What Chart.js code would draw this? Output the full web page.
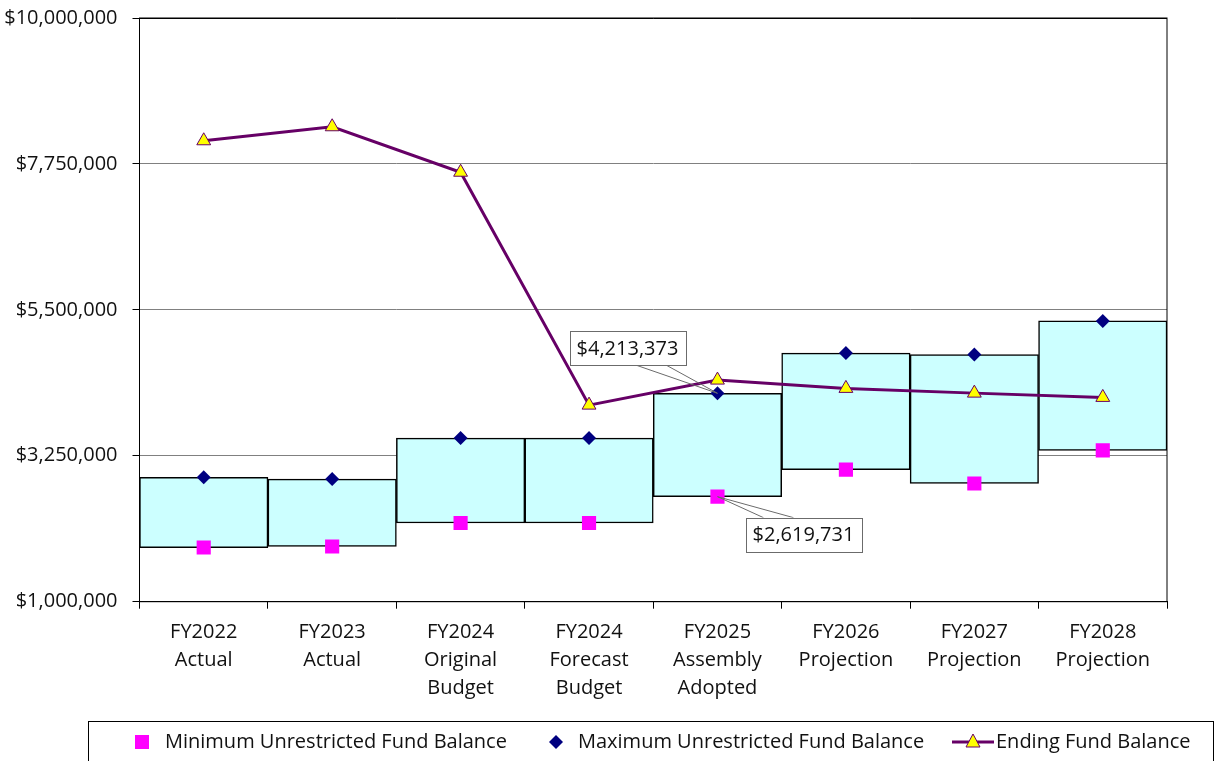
<!doctype html>
<html lang="en">
  <head>
    <meta charset="utf-8">
    <title>Fund Balance</title>
    <script src="https://cdn.jsdelivr.net/npm/chart.js"></script>
    <style>
      html, body { margin: 0; padding: 0; background: #fff; }
      .chart-wrap { position: relative; width: 1222px; height: 761px; }
    </style>
  </head>
  <body>
    <div class="chart-wrap">
      <canvas id="fundChart"></canvas>
    </div>

    <script>
      const categories = [
        ['FY2022', 'Actual'],
        ['FY2023', 'Actual'],
        ['FY2024', 'Original', 'Budget'],
        ['FY2024', 'Forecast', 'Budget'],
        ['FY2025', 'Assembly', 'Adopted'],
        ['FY2026', 'Projection'],
        ['FY2027', 'Projection'],
        ['FY2028', 'Projection']
      ];
      const minBalance = [1835000, 1851000, 2213000, 2213000, 2619731, 3037000, 2822000, 3333000];
      const maxBalance = [2917000, 2891000, 3523000, 3523000, 4213373, 4833000, 4810000, 5330000];
      const endingBalance = [8107000, 8323000, 7622000, 4031000, 4417000, 4289000, 4216000, 4150000];
      const yTicks = [1000000, 3250000, 5500000, 7750000, 10000000];

      const legendLabels = ['Minimum Unrestricted Fund Balance', 'Maximum Unrestricted Fund Balance', 'Ending Fund Balance'];

      const FONT = "'Open Sans', 'Noto Sans', sans-serif";
      const money = v => '$' + Math.round(v).toLocaleString('en-US');

      // border round the plot area
      const plotBorder = {
        id: 'plotBorder',
        beforeDatasetsDraw(chart) {
          const { ctx, chartArea: a } = chart;
          ctx.save();
          ctx.strokeStyle = '#000';
          ctx.lineWidth = 1;
          ctx.strokeRect(a.left, a.top, a.right - a.left, a.bottom - a.top);
          ctx.restore();
        }
      };

      // value callouts pointing at single points
      const callouts = [
        { dataset: 2, index: 4, dx: -90, dy: -45, wedge: [9, 39], side: 'bottom' },
        { dataset: 1, index: 4, dx: 86, dy: 38, wedge: [-40, -10], side: 'top' }
      ];
      const calloutPlugin = {
        id: 'callouts',
        afterDatasetsDraw(chart) {
          const { ctx } = chart;
          ctx.save();
          ctx.font = '20px ' + FONT;
          callouts.forEach(c => {
            const pt = chart.getDatasetMeta(c.dataset).data[c.index];
            const value = chart.data.datasets[c.dataset].data[c.index];
            const text = money(value);
            const w = ctx.measureText(text).width + 14;
            const h = 34;
            const cx = pt.x + c.dx, cy = pt.y + c.dy;
            const left = cx - w / 2, top = cy - h / 2;
            const edge = c.side === 'bottom' ? top + h : top;
            ctx.strokeStyle = '#6b6b6b';
            ctx.lineWidth = 1;
            ctx.beginPath();
            ctx.moveTo(cx + c.wedge[0], edge);
            ctx.lineTo(pt.x, pt.y);
            ctx.lineTo(cx + c.wedge[1], edge);
            ctx.stroke();
            ctx.fillStyle = '#fff';
            ctx.fillRect(left, top, w, h);
            ctx.strokeRect(Math.round(left) + 0.5, Math.round(top) + 0.5, Math.round(w), h);
            ctx.fillStyle = '#111';
            ctx.textAlign = 'center';
            ctx.textBaseline = 'middle';
            ctx.fillText(text, cx, cy + 1);
          });
          ctx.restore();
        }
      };

      // boxed legend along the bottom
      const boxLegend = {
        id: 'boxLegend',
        afterDraw(chart) {
          const { ctx } = chart;
          const y = 742;
          ctx.save();
          ctx.strokeStyle = '#000';
          ctx.lineWidth = 1;
          ctx.strokeRect(88.5, 721.5, 1125, 60);
          ctx.font = '20px ' + FONT;
          ctx.textBaseline = 'middle';

          ctx.fillStyle = '#FF00FF';
          ctx.fillRect(135, y - 7, 14, 14);
          ctx.fillStyle = '#111';
          ctx.fillText(legendLabels[0], 165, y);

          ctx.fillStyle = '#000080';
          ctx.beginPath();
          ctx.moveTo(556, y - 7); ctx.lineTo(563, y); ctx.lineTo(556, y + 7); ctx.lineTo(549, y);
          ctx.closePath(); ctx.fill();
          ctx.fillStyle = '#111';
          ctx.fillText(legendLabels[1], 578, y);

          ctx.strokeStyle = '#660066';
          ctx.lineWidth = 3;
          ctx.beginPath(); ctx.moveTo(952, y); ctx.lineTo(994, y); ctx.stroke();
          ctx.fillStyle = '#FFFF00';
          ctx.lineWidth = 1;
          ctx.beginPath();
          ctx.moveTo(973, y - 8); ctx.lineTo(980, y + 5); ctx.lineTo(966, y + 5);
          ctx.closePath(); ctx.fill(); ctx.stroke();
          ctx.fillStyle = '#111';
          ctx.fillText(legendLabels[2], 996, y);
          ctx.restore();
        }
      };

      Chart.defaults.font.family = FONT;
      Chart.defaults.color = '#111';

      new Chart(document.getElementById('fundChart'), {
        type: 'bar',
        data: {
          labels: categories,
          datasets: [
            {
              type: 'bar',
              label: 'Range',
              data: minBalance.map((v, i) => [v, maxBalance[i]]),
              backgroundColor: '#CCFFFF',
              borderColor: '#000',
              borderWidth: 1.5,
              borderSkipped: false,
              barPercentage: 1,
              categoryPercentage: 1,
              order: 4
            },
            {
              type: 'line',
              label: legendLabels[0],
              data: minBalance,
              showLine: false,
              pointStyle: 'rect',
              pointRadius: 10,
              pointBackgroundColor: '#FF00FF',
              pointBorderColor: '#FF00FF',
              pointBorderWidth: 0,
              order: 3
            },
            {
              type: 'line',
              label: legendLabels[1],
              data: maxBalance,
              showLine: false,
              pointStyle: 'rectRot',
              pointRadius: 7,
              pointBackgroundColor: '#000080',
              pointBorderColor: '#000080',
              pointBorderWidth: 0,
              order: 2
            },
            {
              type: 'line',
              label: legendLabels[2],
              data: endingBalance,
              borderColor: '#660066',
              borderWidth: 3,
              tension: 0,
              pointStyle: 'triangle',
              pointRadius: 8,
              pointBackgroundColor: '#FFFF00',
              pointBorderColor: '#660066',
              pointBorderWidth: 1,
              order: 1
            }
          ]
        },
        options: {
          responsive: true,
          maintainAspectRatio: false,
          animation: false,
          layout: { padding: { top: 18, right: 55, left: 0, bottom: 0 } },
          plugins: {
            legend: { display: false },
            tooltip: { enabled: false }
          },
          scales: {
            x: {
              afterFit: s => { s.height = 159.3; },
              border: { display: true, color: '#000', width: 1 },
              grid: {
                offset: true,
                drawOnChartArea: false,
                drawTicks: true,
                tickLength: 7,
                tickColor: '#000'
              },
              ticks: {
                font: { size: 20, lineHeight: 1.4 },
                color: '#111',
                padding: 10,
                maxRotation: 0,
                autoSkip: false
              }
            },
            y: {
              min: 1000000,
              max: 10000000,
              afterFit: s => { s.width = 139.5; s.paddingTop = 0; s.paddingBottom = 0; },
              afterBuildTicks: s => { s.ticks = yTicks.map(v => ({ value: v })); },
              border: { display: true, color: '#000', width: 1 },
              grid: {
                color: c => (c.tick && c.tick.value === 10000000 ? '#000' : '#808080'),
                lineWidth: 1,
                tickLength: 7,
                tickColor: '#000'
              },
              ticks: {
                font: { size: 20 },
                color: '#111',
                padding: 15,
                callback: v => money(v)
              }
            }
          }
        },
        plugins: [plotBorder, calloutPlugin, boxLegend]
      });
    </script>
  </body>
</html>
